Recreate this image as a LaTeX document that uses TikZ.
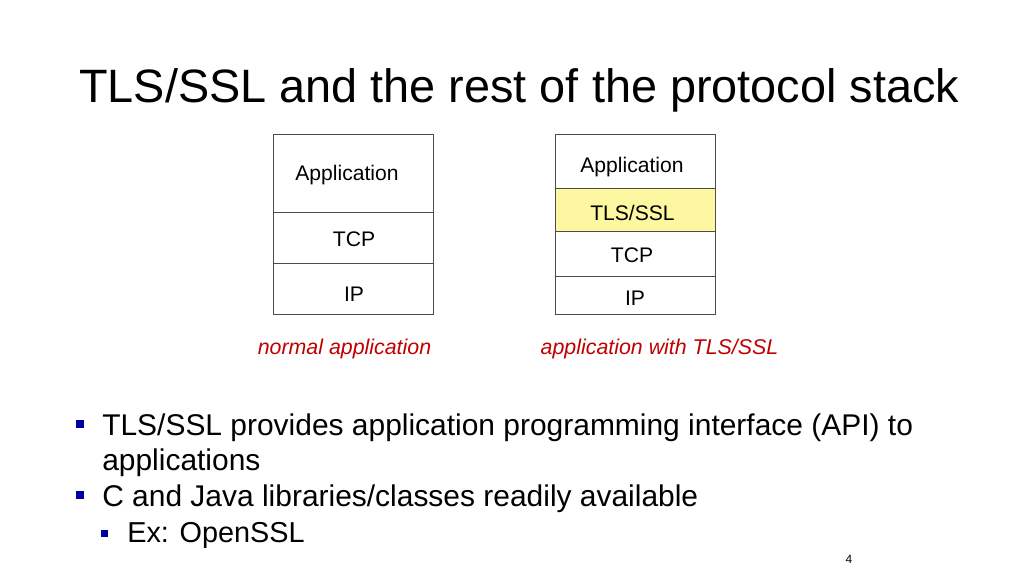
\documentclass[tikz,border=0pt]{standalone}
\usepackage{fontspec}
\setmainfont{Liberation Sans}
\colorlet{stackline}{black!70}
\definecolor{tlsfill}{RGB}{252,247,160}
\definecolor{capred}{RGB}{192,0,0}
\definecolor{bulletblue}{RGB}{0,0,160}
\tikzset{title/.style={anchor=base west,inner sep=0pt,font=\fontsize{33.3}{40}\selectfont}}
\tikzset{stack/.style={draw=stackline,line width=0.6pt}}
\tikzset{layer/.style={anchor=base,inner sep=0pt,font=\fontsize{15}{18}\selectfont}}
\tikzset{stackcap/.style={anchor=base,inner sep=0pt,text=capred,font=\fontsize{15.2}{18}\selectfont\itshape}}
\tikzset{textline/.style={anchor=base west,inner sep=0pt,font=\fontsize{21.3}{25}\selectfont}}
\tikzset{subline/.style={anchor=base west,inner sep=0pt,font=\fontsize{20.5}{24}\selectfont}}
\tikzset{bulletsq/.style={fill=bulletblue,inner sep=0pt,minimum size=0.19cm}}
\tikzset{subbullet/.style={fill=bulletblue,inner sep=0pt,minimum size=0.175cm}}

\begin{document}
\begin{tikzpicture}[x=0.025cm,y=-0.025cm]
	    \useasboundingbox (0,0) rectangle (1024,576);
	    \node[title] (title) at (79,103) {TLS/SSL and the rest of the protocol stack};
	    % normal stack
	    \draw[stack] (273,134) rectangle (433,314);
	    \draw[stack] (273,212) -- (433,212) (273,263) -- (433,263);
	    \node[layer] (app1) at (347,181) {Application};
	    \node[layer] (tcp1) at (354,247) {TCP};
	    \node[layer] (ip1) at (354,302) {IP};
	    \node[stackcap] (cap1) at (344.5,354) {normal application};
	    % stack with TLS/SSL
	    \fill[tlsfill] (555,188) rectangle (715,231);
	    \draw[stack] (555,134) rectangle (715,314);
	    \draw[stack] (555,188) -- (715,188) (555,231) -- (715,231) (555,276) -- (715,276);
	    \node[layer] (app2) at (632,173) {Application};
	    \node[layer] (tls2) at (632.5,221) {TLS/SSL};
	    \node[layer] (tcp2) at (632,263) {TCP};
	    \node[layer] (ip2) at (635,306) {IP};
	    \node[stackcap] (cap2) at (659.5,354) {application with TLS/SSL};
	    % bullets
	    \node[bulletsq] (b1) at (80,424) {};
	    \node[textline] (l1) at (102,435) {TLS/SSL provides application programming interface (API) to};
	    \node[textline] (l2) at (102,470) {applications};
	    \node[bulletsq] (b2) at (80,495) {};
	    \node[textline] (l3) at (102,506) {C and Java libraries/classes readily available};
	    \node[subbullet] (b3) at (104.5,533) {};
	    \node[subline] (l4) at (127,542) {Ex: OpenSSL};
	    \node[anchor=base,inner sep=0pt,font=\fontsize{8.5}{10}\selectfont] (page) at (849,563) {4};
        \end{tikzpicture}
\end{document}
